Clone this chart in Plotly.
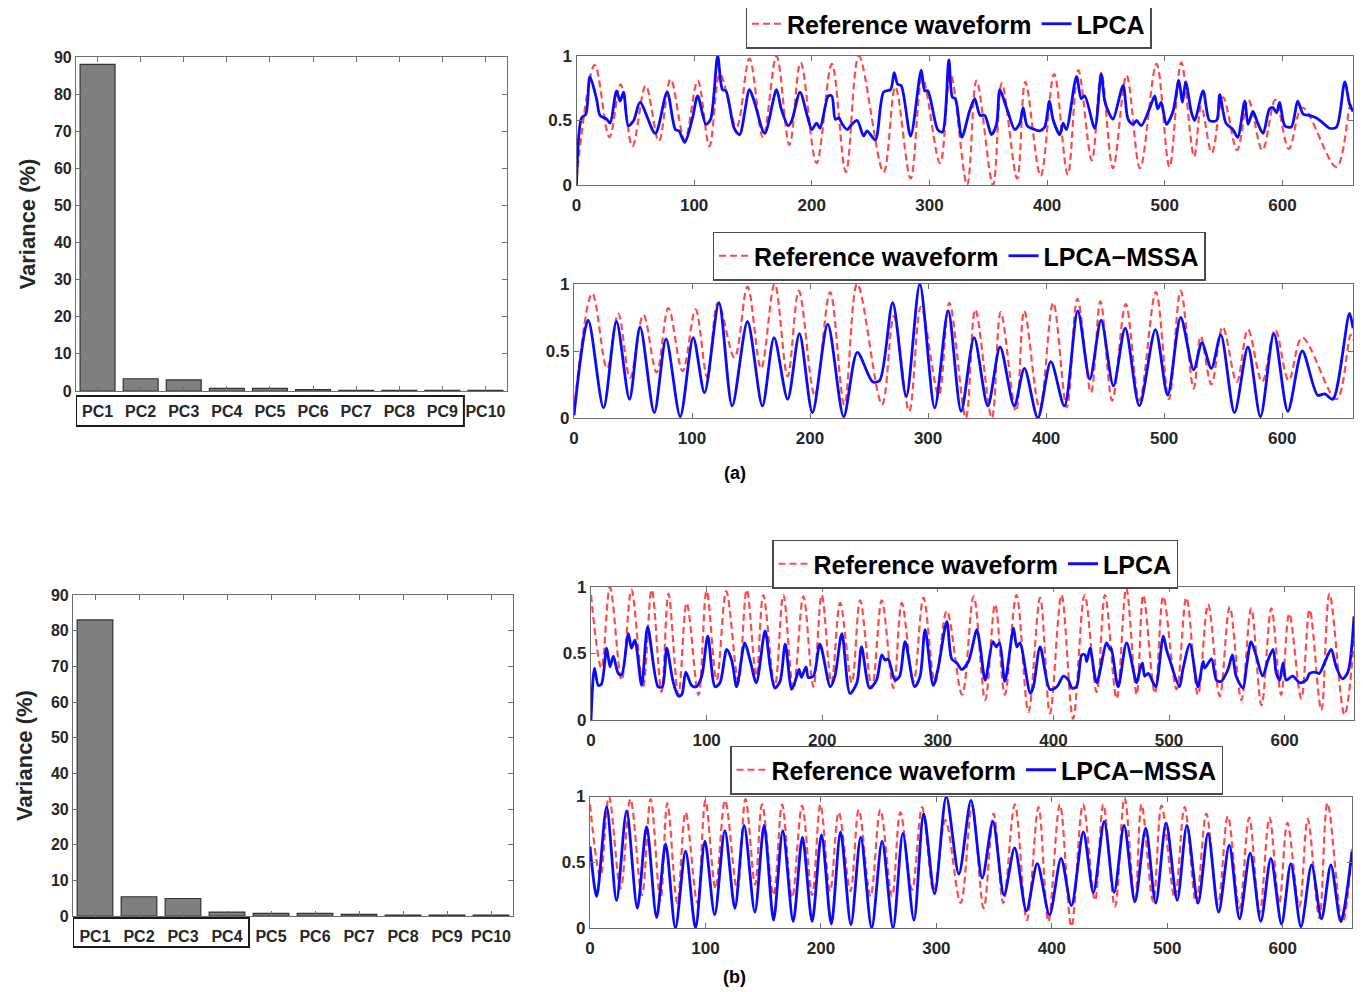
import plotly.graph_objects as go

# the page body keeps its default 8px margin, so the figure is shifted by it
OFF = 8
W, H = 1363 - OFF, 992 - OFF

# ---------------- data ----------------
pcs = ["PC1", "PC2", "PC3", "PC4", "PC5", "PC6", "PC7", "PC8", "PC9", "PC10"]
var_a = [88.0, 3.3, 3.0, 0.7, 0.7, 0.4, 0.2, 0.2, 0.2, 0.2]
var_b = [83.0, 5.4, 4.9, 1.1, 0.75, 0.75, 0.45, 0.25, 0.25, 0.25]

# reference waveform (a) - extrema
ref_a_x = [0, 15.5, 28, 37.5, 47.5, 58.8, 70, 80, 92, 103, 113, 122, 136, 147, 158.5, 170, 181,
           190.5, 204, 217, 229, 240, 261, 271, 284, 294, 309, 318, 332, 340, 354, 361.5, 374.5,
           381.5, 394.5, 406, 417.5, 426.5, 438, 446, 456, 467.5, 479, 493, 504, 514, 525, 531,
           540, 549.6, 561.5, 571, 583, 594, 605.5, 617, 646, 658, 660]
ref_a_y = [0.05, 0.93, 0.37, 0.78, 0.30, 0.77, 0.34, 0.82, 0.35, 0.81, 0.30, 0.86, 0.45, 0.98,
           0.37, 1.0, 0.31, 0.95, 0.17, 0.94, 0.10, 1.0, 0.10, 0.76, 0.05, 0.83, 0.17, 0.86, 0.0,
           0.81, 0.0, 0.79, 0.05, 0.80, 0.07, 0.86, 0.08, 0.89, 0.19, 0.87, 0.13, 0.85, 0.13,
           0.94, 0.14, 0.95, 0.22, 0.61, 0.25, 0.68, 0.27, 0.66, 0.27, 0.66, 0.28, 0.60, 0.14,
           0.62, 0.58]

lpca_a_x = [0, 4.3, 8, 11.4, 17, 20, 25.7, 28.6, 34, 37, 40, 44, 48.6, 54, 67, 77, 84, 87, 92,
            98.6, 103, 110, 114, 120, 124, 127, 134, 138.6, 147, 151, 160, 170, 174, 180, 183,
            190, 196, 200, 204, 207, 214, 217, 220, 223, 226, 230, 234, 238.6, 244, 247, 254,
            261, 267, 270, 273, 276, 284, 293, 296, 298.6, 307, 311, 316.5, 319.5, 322, 327.5,
            334, 338.5, 343, 347, 352.7, 357, 359.8, 364, 367, 372.5, 376.8, 379.6, 383, 389.5,
            393.8, 398, 402, 405, 410.8, 413.6, 416.4, 425, 429, 432, 440.5, 446, 449, 453, 456,
            464.6, 468.8, 473, 476, 480, 487, 491.5, 494, 497, 501.4, 507, 512, 515, 517.8,
            522.7, 525.5, 532.6, 538, 544, 546.7, 552, 558, 562, 568, 570.8, 575, 579, 583.6,
            589, 592, 595, 597.7, 602, 607.6, 613, 617.6, 623, 629, 634.6, 640, 646, 653, 657,
            660]
lpca_a_y = [0, 0.52, 0.55, 0.84, 0.67, 0.54, 0.51, 0.48, 0.73, 0.65, 0.72, 0.46, 0.50, 0.64,
            0.40, 0.72, 0.43, 0.42, 0.33, 0.52, 0.69, 0.47, 0.51, 1.0, 0.74, 0.73, 0.44, 0.39,
            0.74, 0.65, 0.40, 0.74, 0.59, 0.46, 0.50, 0.72, 0.54, 0.43, 0.48, 0.44, 0.69, 0.69,
            0.51, 0.52, 0.47, 0.43, 0.47, 0.50, 0.38, 0.42, 0.35, 0.72, 0.74, 0.87, 0.78, 0.77,
            0.38, 0.89, 0.73, 0.73, 0.43, 0.41, 0.97, 0.68, 0.67, 0.37, 0.57, 0.67, 0.54, 0.54,
            0.39, 0.47, 0.74, 0.64, 0.56, 0.43, 0.48, 0.60, 0.46, 0.43, 0.42, 0.45, 0.65, 0.51,
            0.39, 0.48, 0.43, 0.84, 0.67, 0.69, 0.44, 0.86, 0.65, 0.55, 0.51, 0.77, 0.51, 0.47,
            0.50, 0.46, 0.59, 0.69, 0.59, 0.64, 0.47, 0.57, 0.81, 0.64, 0.80, 0.56, 0.50, 0.73,
            0.50, 0.50, 0.70, 0.48, 0.43, 0.37, 0.65, 0.47, 0.57, 0.48, 0.40, 0.59, 0.60, 0.56,
            0.64, 0.46, 0.45, 0.65, 0.55, 0.54, 0.52, 0.48, 0.44, 0.45, 0.80, 0.63, 0.57]

mssa_a_x = [0, 12, 25, 36, 47, 56, 68, 78, 90, 101, 110.6, 122.8, 134, 147, 159.6, 169.5, 181,
            191, 202, 215, 228.5, 240, 253, 259, 270, 281.5, 293, 305.6, 317, 328, 339, 350.6,
            361, 373, 381.6, 393, 404, 415.5, 426.8, 437, 446.6, 457, 467, 479, 492.6, 503, 514,
            525, 532, 540, 548, 559.6, 571, 581.6, 593, 604.8, 617, 630, 636, 643, 657, 660]
mssa_a_y = [0.02, 0.73, 0.075, 0.72, 0.14, 0.68, 0.04, 0.59, 0.01, 0.60, 0.19, 0.86, 0.09, 0.72,
            0.09, 0.60, 0.14, 0.63, 0.04, 0.70, 0.01, 0.49, 0.27, 0.28, 0.86, 0.16, 1.0, 0.075,
            0.80, 0.05, 0.60, 0.09, 0.53, 0.09, 0.37, 0.0, 0.42, 0.09, 0.80, 0.29, 0.73, 0.24,
            0.67, 0.09, 0.66, 0.17, 0.75, 0.36, 0.56, 0.37, 0.62, 0.04, 0.53, 0.01, 0.63, 0.05,
            0.50, 0.17, 0.18, 0.14, 0.78, 0.67]

# reference waveform (b)
ref_b_x = [0, 9, 16.4, 26.5, 35, 45, 52.5, 61, 67, 75.6, 82.8, 93, 100, 108.7, 117, 127.5, 134.7,
           143, 149, 159, 166.4, 175, 183.7, 192.4, 199.6, 208, 215.5, 225.6, 232.8, 243, 251.5,
           261.6, 268.8, 279, 287.6, 297.7, 307.8, 321, 331, 341, 349.6, 358, 368, 378.4, 388.5,
           397, 407, 417, 427, 437.4, 444.6, 454.7, 463, 472, 477.7, 487.8, 495, 506.5, 515,
           525, 533.8, 543.9, 552.5, 562.6, 571, 580, 588.5, 597, 604, 614.4, 621.6, 631.7,
           638.8, 651.8, 660]
ref_b_y = [0.94, 0.39, 1.0, 0.30, 0.98, 0.25, 0.98, 0.21, 0.95, 0.19, 0.88, 0.19, 0.97, 0.30,
           0.97, 0.29, 0.98, 0.33, 0.94, 0.25, 0.94, 0.23, 0.93, 0.25, 0.94, 0.28, 0.88, 0.28,
           0.90, 0.24, 0.90, 0.24, 0.88, 0.29, 0.92, 0.28, 0.82, 0.19, 0.93, 0.15, 0.87, 0.19,
           0.94, 0.06, 0.92, 0.05, 0.94, 0.01, 0.94, 0.21, 0.94, 0.16, 0.99, 0.19, 0.94, 0.20,
           0.93, 0.23, 0.92, 0.19, 0.87, 0.18, 0.85, 0.15, 0.84, 0.11, 0.84, 0.19, 0.80, 0.16,
           0.83, 0.075, 0.95, 0.04, 0.60]

lpca_b_x = [0, 3, 6.3, 9, 13.6, 16.4, 19.3, 23.6, 26.5, 32.3, 35, 38, 43.8, 49, 58, 61.7, 65.5,
            71, 75.6, 78.5, 82, 87, 91, 95.8, 101, 107.3, 111.6, 117.4, 121.7, 126, 133, 137.6,
            143, 150.6, 155, 159, 163.5, 168, 173.6, 178, 180, 182, 186, 188, 192.4, 198, 207,
            211, 217, 224, 230, 234, 241, 247, 251.5, 254.4, 257, 263, 267, 271.7, 280, 284.7,
            289, 296, 300.5, 307.8, 312, 316.4, 320.7, 326.5, 333.8, 336.7, 341, 347.6, 350.5,
            353.4, 358, 365.5, 368.3, 371, 380, 382.7, 388.5, 397, 403, 408.6, 413, 416, 420,
            424.5, 427.3, 428.8, 431.7, 437.4, 446, 449, 450, 456, 463.3, 472, 474.8, 477, 479,
            482, 486.3, 488.6, 495, 497.8, 500.7, 509, 512, 518, 525, 529.5, 531, 536.7, 541,
            545, 551, 554.8, 558, 564, 567, 571, 575.5, 581, 585.6, 590, 592.8, 595.7, 598.6,
            601.4, 607, 613, 618.7, 621.6, 626, 630, 634.5, 640.3, 644.6, 650, 654.7, 660]
lpca_b_y = [0, 0.39, 0.26, 0.27, 0.54, 0.40, 0.48, 0.35, 0.34, 0.65, 0.54, 0.60, 0.26, 0.70,
            0.25, 0.25, 0.54, 0.29, 0.18, 0.19, 0.36, 0.26, 0.25, 0.33, 0.63, 0.25, 0.28, 0.53,
            0.45, 0.25, 0.58, 0.45, 0.28, 0.67, 0.40, 0.24, 0.29, 0.57, 0.23, 0.33, 0.38, 0.32,
            0.40, 0.32, 0.33, 0.57, 0.25, 0.33, 0.65, 0.20, 0.28, 0.55, 0.24, 0.30, 0.49, 0.45,
            0.46, 0.30, 0.33, 0.59, 0.25, 0.33, 0.68, 0.26, 0.40, 0.74, 0.46, 0.43, 0.38, 0.44,
            0.68, 0.55, 0.30, 0.59, 0.55, 0.58, 0.29, 0.69, 0.55, 0.58, 0.20, 0.25, 0.55, 0.23,
            0.25, 0.33, 0.30, 0.24, 0.25, 0.49, 0.49, 0.44, 0.54, 0.28, 0.58, 0.53, 0.54, 0.25,
            0.58, 0.28, 0.38, 0.43, 0.33, 0.35, 0.28, 0.25, 0.63, 0.53, 0.45, 0.25, 0.38, 0.57,
            0.25, 0.44, 0.39, 0.46, 0.30, 0.29, 0.38, 0.49, 0.33, 0.24, 0.40, 0.59, 0.48, 0.33,
            0.45, 0.53, 0.35, 0.30, 0.43, 0.30, 0.33, 0.28, 0.30, 0.35, 0.36, 0.35, 0.43, 0.53,
            0.40, 0.31, 0.36, 0.78]

mssa_b_x = [0, 5.8, 14.4, 23, 31.7, 41, 49, 57.7, 65.5, 74, 82.8, 91.4, 99.5, 108, 116.8, 125.5,
            133.5, 142.8, 150.8, 159, 167, 176, 184, 192.4, 200.5, 209, 217, 226, 234.5, 244,
            253, 262.5, 271, 280.6, 289, 298.5, 308.6, 319.5, 330, 339.7, 349, 358.6, 367.8, 378,
            387.4, 398, 408, 417, 427.3, 436, 445.4, 454, 462.6, 472, 481.3, 490, 499, 508.6,
            517, 526.7, 535.3, 544.5, 553.7, 562.6, 571.8, 581, 589.7, 599, 607, 615.8, 625,
            633.6, 641.7, 650.3, 660]
mssa_b_y = [0.62, 0.24, 0.92, 0.21, 0.89, 0.15, 0.77, 0.08, 0.64, 0.0, 0.585, 0.0, 0.66, 0.10,
            0.74, 0.15, 0.78, 0.12, 0.78, 0.06, 0.74, 0.05, 0.69, 0.05, 0.71, 0.03, 0.73, 0.025,
            0.69, 0.0, 0.66, 0.0, 0.72, 0.06, 0.87, 0.26, 1.0, 0.41, 0.97, 0.38, 0.81, 0.25, 0.61,
            0.13, 0.49, 0.10, 0.53, 0.17, 0.73, 0.27, 0.81, 0.27, 0.78, 0.20, 0.76, 0.19, 0.80,
            0.21, 0.78, 0.19, 0.72, 0.12, 0.63, 0.07, 0.57, 0.05, 0.53, 0.03, 0.49, 0.01, 0.48,
            0.07, 0.48, 0.05, 0.58]

# ---------------- styling ----------------
FONT = "Liberation Sans, Arial, sans-serif"
AXC = "#6e6e6e"
TXT = "#262626"
RED = "#ff4a4a"
BLUE = "#0a0aff"


def px_x(p):
    return (p - OFF) / W


def px_y(p):
    return 1 - (p - OFF) / H


fig = go.Figure()

# bars
fig.add_trace(go.Bar(x=pcs, y=var_a, marker=dict(color="#7f7f7f", line=dict(color="#333333", width=1.2)),
                     xaxis="x", yaxis="y", showlegend=False))
fig.add_trace(go.Bar(x=pcs, y=var_b, marker=dict(color="#7f7f7f", line=dict(color="#333333", width=1.2)),
                     xaxis="x4", yaxis="y4", showlegend=False))

line_panels = [
    ("x2", "y2", ref_a_x, ref_a_y, lpca_a_x, lpca_a_y, "LPCA", "legend"),
    ("x3", "y3", ref_a_x, ref_a_y, mssa_a_x, mssa_a_y, "LPCA\u2212MSSA", "legend2"),
    ("x5", "y5", ref_b_x, ref_b_y, lpca_b_x, lpca_b_y, "LPCA", "legend3"),
    ("x6", "y6", ref_b_x, ref_b_y, mssa_b_x, mssa_b_y, "LPCA\u2212MSSA", "legend4"),
]
for xa, ya, rx, ry, bx, by, name, lg in line_panels:
    fig.add_trace(go.Scatter(x=rx, y=ry, mode="lines", name="Reference waveform",
                             line=dict(color=RED, width=2.2, dash="7px,4px", shape="spline", smoothing=1.0),
                             xaxis=xa, yaxis=ya, legend=lg))
    fig.add_trace(go.Scatter(x=bx, y=by, mode="lines", name=name,
                             line=dict(color=BLUE, width=2.8, shape="spline", smoothing=0.8),
                             xaxis=xa, yaxis=ya, legend=lg))

tickfont = dict(family=FONT, size=16, color=TXT, weight="bold")
lt_tickfont = dict(family=FONT, size=17, color=TXT, weight="bold")

common = dict(showline=True, linecolor=AXC, linewidth=1.2, mirror="ticks", ticks="inside",
              ticklen=5, tickcolor=AXC, showgrid=False, zeroline=False, automargin=False)

ytitle = dict(text="Variance (%)", font=dict(family=FONT, size=22, color=TXT, weight="bold"),
              standoff=12)

layout = dict(
    width=W, height=H, margin=dict(l=0, r=0, t=0, b=0, autoexpand=False),
    paper_bgcolor="white", plot_bgcolor="white", bargap=0.19,
    # bar (a)
    xaxis=dict(domain=[px_x(76), px_x(507)], anchor="y", type="category", range=[-0.5, 9.5],
               tickfont=tickfont, ticklabelstandoff=6, **common),
    yaxis=dict(domain=[px_y(391), px_y(57)], anchor="x", range=[0, 90], dtick=10,
               tickfont=tickfont, title=ytitle, **common),
    # bar (b)
    xaxis4=dict(domain=[px_x(73), px_x(513)], anchor="y4", type="category", range=[-0.5, 9.5],
                tickfont=tickfont, ticklabelstandoff=6, **common),
    yaxis4=dict(domain=[px_y(916), px_y(595)], anchor="x4", range=[0, 90], dtick=10,
                tickfont=tickfont, title=ytitle, **common),
)

line_dom = {
    "2": ([576.5, 1353], [185, 56]),
    "3": ([574, 1353], [418, 284]),
    "5": ([591, 1354], [720, 587]),
    "6": ([590, 1352], [928, 796.5]),
}
for k, (xd, yd) in line_dom.items():
    layout["xaxis" + k] = dict(domain=[px_x(xd[0]), px_x(xd[1])], anchor="y" + k, range=[0, 660],
                               tickvals=[0, 100, 200, 300, 400, 500, 600], tickfont=lt_tickfont,
                               ticklabelstandoff=4, **common)
    layout["yaxis" + k] = dict(domain=[px_y(yd[0]), px_y(yd[1])], anchor="x" + k, range=[0, 1],
                               tickvals=[0, 0.5, 1], ticktext=["0", "0.5", "1"], tickfont=lt_tickfont,
                               **common)

leg_common = dict(orientation="h", xanchor="center", yanchor="middle", bgcolor="white",
                  bordercolor="#4a4a4a", borderwidth=1.5,
                  font=dict(family=FONT, size=25, color="black", weight="bold"),
                  itemwidth=30, tracegroupgap=0)
layout["legend"] = dict(x=px_x(948.5), y=px_y(24), **leg_common)
layout["legend2"] = dict(x=px_x(959), y=px_y(256), **leg_common)
layout["legend3"] = dict(x=px_x(975), y=px_y(564), **leg_common)
layout["legend4"] = dict(x=px_x(976.5), y=px_y(770), **leg_common)

fig.update_layout(**layout)

# boxes around the retained principal components
fig.add_shape(type="rect", xref="x", yref="paper", x0=-0.5, x1=8.5, y0=px_y(426), y1=px_y(396),
              line=dict(color="#1a1a1a", width=2))
fig.add_shape(type="rect", xref="x4", yref="paper", x0=-0.5, x1=3.5, y0=px_y(947), y1=px_y(918),
              line=dict(color="#1a1a1a", width=2))

for txt, yy in [("(a)", 473), ("(b)", 977)]:
    fig.add_annotation(text=txt, x=px_x(735), y=px_y(yy), xref="paper", yref="paper", showarrow=False,
                       xanchor="center", yanchor="middle",
                       font=dict(family=FONT, size=18, color="black", weight="bold"))

fig.write_html("out.html")
